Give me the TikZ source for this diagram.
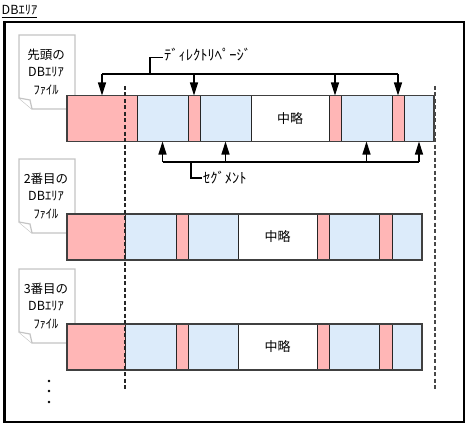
\documentclass[tikz,border=0pt]{standalone}
\usepackage{fontspec}
\setmainfont{Noto Sans CJK JP}
\usetikzlibrary{arrows.meta,calc}
\definecolor{pk}{HTML}{FFB6B6}
\definecolor{bl}{HTML}{DCEBFA}
\definecolor{wh}{HTML}{FFFFFF}
\definecolor{docgray}{HTML}{C4C4C4}
\begin{document}
\begin{tikzpicture}[x=1pt,y=-1pt,
  seg/.style={draw=black!85, line width=1pt, inner sep=0pt, outer sep=0pt, minimum height=46pt, anchor=north west},
  guide/.style={draw=black!85, line width=1.5pt, dash pattern=on 4pt off 2.5pt},
  conn/.style={draw=black, line width=1.2pt},
  arr/.style={conn, -{Triangle[width=8pt,length=13pt]}},
  lbl/.style={inner sep=0pt, font=\fontsize{14.5}{16}\selectfont, anchor=west},
  doc/.style={draw=docgray, line width=1.2pt, fill=white},
  doctext/.style={inner sep=0pt, align=center, font=\fontsize{12.5}{17.5}\selectfont},
  txt/.style={inner sep=0pt, font=\fontsize{13}{15}\selectfont}
]
\useasboundingbox (0,0) rectangle (469,428);
% title and frame
\node[inner sep=0pt, anchor=base west, font=\fontsize{12.5}{14}\selectfont] (title) at (1.5,15) {DBｴﾘｱ};
\draw[line width=1pt] (title.base west) ++(0,2.5) -- ($(title.base east)+(0,2.5)$);
\draw[line width=2.5pt] (4.5,22) rectangle (464,422);
% documents
\foreach \t/\nm/\lab in {35/d1/{先頭の\\DBｴﾘｱ\\ﾌｧｲﾙ}, 159/d2/{2番目の\\DBｴﾘｱ\\ﾌｧｲﾙ}, 269/d3/{3番目の\\DBｴﾘｱ\\ﾌｧｲﾙ}}{
  \draw[doc] (19,\t) -- (75,\t) -- (75,\t+74) -- (32,\t+74) -- (19,\t+63) -- cycle;
  \draw[doc] (19,\t+63) -- (30,\t+65) -- (32,\t+74);
  \node[doctext] (\nm) at (46,\t+37) {\lab};
}
% row 1 bar
\foreach \xa/\xb/\c [count=\i] in {67/137/pk,137/188/bl,188/200/pk,200/251/bl,251/329/wh,329/341/pk,341/392/bl,392/404/pk,404/434/bl}{
  \node[seg, fill=\c, minimum width={(\xb-\xa)*1pt}] (r1s\i) at (\xa,95.5) {};
}
\draw[line width=1.2pt, draw=black!75] (r1s1.north west) rectangle (r1s9.south east);
\node[txt] (r1t) at (r1s5.center) {中略};
% rows 2 and 3
\foreach \r/\top in {2/214, 3/324}{
  \foreach \xa/\xb/\c [count=\i] in {67/125/pk,125/176/bl,176/188/pk,188/238/bl,238/317/wh,317/329/pk,329/379/bl,379/392/pk,392/422/bl}{
    \node[seg, fill=\c, minimum width={(\xb-\xa)*1pt}] (r\r s\i) at (\xa,\top) {};
  }
  \draw[line width=1.2pt, draw=black!75] (r\r s1.north west) rectangle (r\r s9.south east);
  \node[txt] (r\r t) at (r\r s5.center) {中略};
}
% dashed guides
\coordinate (g1t) at (125,86);
\coordinate (g1b) at (125,390);
\coordinate (g2t) at (434.5,86);
\coordinate (g2b) at (434.5,390);
\draw[guide] (g1t) -- (g1b);
\draw[guide, draw=black!72, line width=2pt] (g2t) -- (g2b);
% directory page arrows
\coordinate (dl) at (0,74);
\draw[conn] (r1s1.north |- dl) -- (r1s8.north |- dl);
\foreach \s in {1,3,6,8}{
  \draw[arr] (r1s\s.north |- dl) -- (r1s\s.north);
}
\node[lbl] (dirlbl) at (164,54.5) {ﾃﾞｨﾚｸﾄﾘﾍﾟｰｼﾞ};
\coordinate (dj) at (150,74);
\draw[conn] (dj) |- ($(dirlbl.west)+(-1,3)$);
% segment arrows
\coordinate (sl) at (0,162);
\draw[conn] (r1s2.south |- sl) -- (r1s9.south |- sl);
\foreach \s in {2,4,7,9}{
  \draw[arr] (r1s\s.south |- sl) -- (r1s\s.south);
}
\node[lbl] (seglbl) at (203,178) {ｾｸﾞﾒﾝﾄ};
\coordinate (sj) at (191,162);
\draw[conn] (sj) |- ($(seglbl.west)+(-1,0)$);
% continuation dots
\fill (49,381) circle (1.4) (49,391) circle (1.4) (49,402) circle (1.4);
\end{tikzpicture}
\end{document}
